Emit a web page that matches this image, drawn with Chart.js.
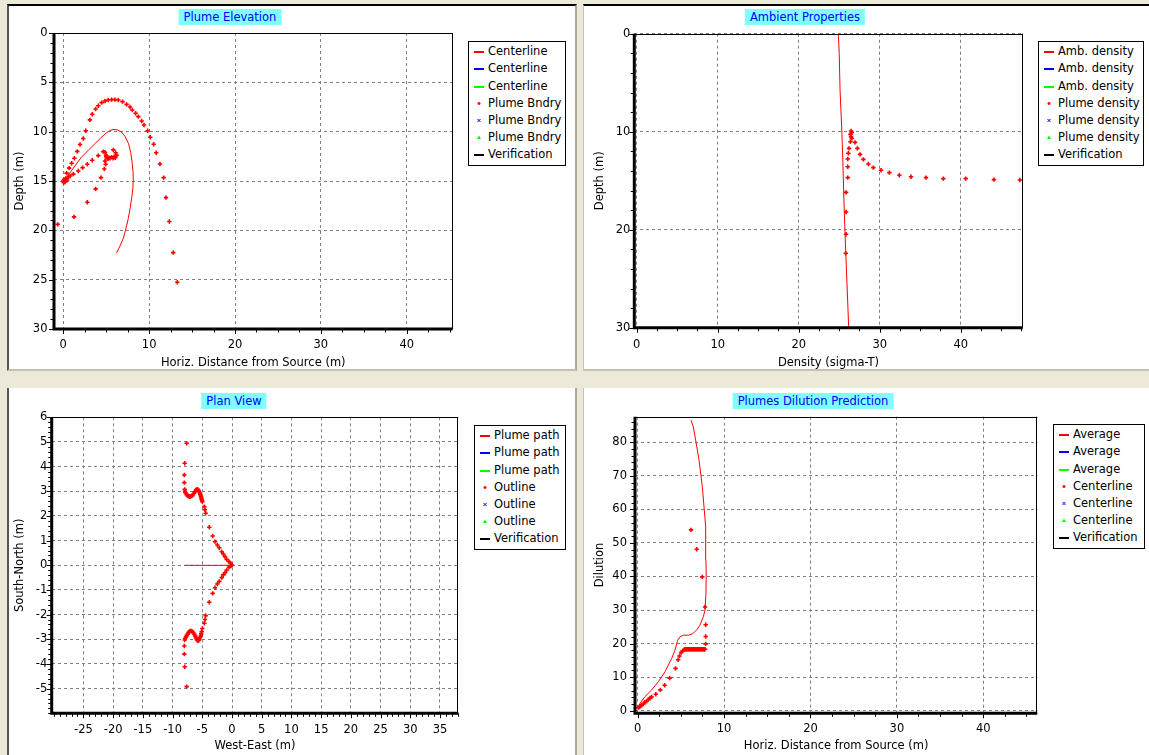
<!DOCTYPE html>
<html>
<head>
<meta charset="utf-8">
<script src="https://cdn.jsdelivr.net/npm/chart.js@4.4.1/dist/chart.umd.min.js"></script>
<style>
  html, body { margin: 0; padding: 0; }
  body { width: 1149px; height: 755px; background: #ece9d8; position: relative; overflow: hidden;
         font-family: "DejaVu Sans", sans-serif; }
  .panel { position: absolute; background: #fff; box-sizing: border-box; }
  canvas { position: absolute; }
  .ttl { position: absolute; height: 16px; line-height: 16px; padding: 0 5px; background: #80ffff; color: #0000ff;
         font-size: 11.5px; white-space: nowrap; transform: translateX(-50%); }
  .legend { position: absolute; border: 1px solid #000; background: #fff; box-sizing: border-box; font-size: 11.5px; }
  .legend .row { position: absolute; left: 0; height: 17px; line-height: 17px; white-space: nowrap; }
  .legend svg { position: absolute; left: 5px; top: 0; }
  .legend span { position: absolute; left: 19px; top: 0; color: #000; }
</style>
</head>
<body>
<div class="panel" style="left:7px;top:4px;width:570px;height:367px;border-top:2px solid #000;border-left:2px solid #555;border-right:2px solid #aca899;border-bottom:2px solid #c4c1b4;"></div>
<div class="panel" style="left:583px;top:4px;width:566px;height:367px;border-top:2px solid #000;border-left:1px solid #c4c1b4;border-bottom:2px solid #c4c1b4;"></div>
<div class="panel" style="left:7px;top:388px;width:570px;height:367px;border-left:2px solid #555;border-right:2px solid #aca899;"></div>
<div class="panel" style="left:583px;top:388px;width:566px;height:367px;border-left:1px solid #c4c1b4;"></div>

<canvas id="elevChart" width="566" height="363" style="left:9px;top:7px;"></canvas>
<canvas id="ambChart" width="561" height="363" style="left:586px;top:7px;"></canvas>
<canvas id="planChart" width="566" height="366" style="left:9px;top:389px;"></canvas>
<canvas id="dilChart" width="561" height="366" style="left:586px;top:389px;"></canvas>

<div class="ttl" style="left:230px;top:9px;">Plume Elevation</div>
<div class="ttl" style="left:805px;top:9px;">Ambient Properties</div>
<div class="ttl" style="left:234px;top:393px;">Plan View</div>
<div class="ttl" style="left:813px;top:393px;">Plumes Dilution Prediction</div>

<script>
// ---------- Plume Elevation ----------
const elevCenterX = [0.0, 0.2, 1.0, 2.1, 3.0, 3.7, 4.3, 4.9, 5.4, 5.8, 6.3, 6.8, 7.2, 7.6, 7.85, 8.0, 8.12, 8.15, 8.1, 7.97, 7.8, 7.57, 7.3, 7.0, 6.6, 6.2];
const elevCenterDepth = [15.0, 14.85, 13.9, 12.6, 11.8, 11.2, 10.7, 10.2, 9.9, 9.78, 9.82, 10.05, 10.5, 11.2, 12.1, 13.0, 14.0, 14.9, 15.8, 16.7, 17.7, 18.8, 19.8, 20.8, 21.6, 22.3];
const elevBndryX = [0.0, 0.1, 0.2, 0.3, 0.05, 0.45, 0.6,
  0.39, 0.68, 0.97, 1.29, 1.63, 1.95, 2.33, 2.62, 3.1, 3.38, 3.77, 4.08, 4.47, 4.86, 5.24, 5.63, 6.02, 6.41, 6.9, 7.38, 7.77, 8.04, 8.43, 8.74, 9.13, 9.4, 9.83, 10.13, 10.53, 10.83, 11.26, 11.69, 11.96, 12.35, 12.81, 13.28,
  0.8, 1.17, 1.75, 2.25, 2.8, 3.38, 4.08,
  4.66, 4.86, 4.97, 5.05, 5.2, 5.32, 5.45, 5.63, 5.8, 5.94, 6.05, 6.22, 6.1, 5.83, 5.0, 4.86, 4.94, 4.78,
  4.39, 3.77, 2.8, 1.25, -0.65];
const elevBndryDepth = [15.0, 14.85, 15.1, 14.75, 15.15, 14.9, 14.6,
  14.2, 13.7, 13.2, 12.7, 12.0, 11.3, 10.7, 9.9, 8.8, 8.24, 7.7, 7.37, 7.06, 6.89, 6.79, 6.75, 6.75, 6.79, 6.96, 7.23, 7.5, 7.8, 8.14, 8.48, 8.92, 9.32, 9.9, 10.57, 11.28, 12.13, 13.27, 14.66, 16.69, 19.1, 22.26, 25.26,
  14.5, 14.3, 13.98, 13.64, 13.3, 12.9, 12.43,
  12.02, 12.09, 12.36, 12.63, 12.75, 12.63, 12.7, 12.6, 12.7, 12.53, 12.65, 12.4, 12.13, 11.85, 12.5, 12.97, 13.3, 13.78,
  14.66, 15.8, 17.15, 18.64, 19.4];
const elevXTicks = [0, 10, 20, 30, 40];
const elevYTicks = [0, 5, 10, 15, 20, 25, 30];
const elevLabels = ['Centerline', 'Centerline', 'Centerline', 'Plume Bndry', 'Plume Bndry', 'Plume Bndry', 'Verification'];

// ---------- Ambient Properties ----------
const ambDensity = [24.89, 25.0, 25.1, 25.3, 25.45, 25.57, 25.72, 25.9, 26.17];
const ambDepth = [0, 2, 5.7, 9.5, 13.1, 16.8, 20.5, 24.3, 30];
const plumeDensity = [26.46, 26.54, 26.38, 26.46, 26.54, 26.38, 26.95, 26.21, 27.24, 27.57, 26.13, 27.98, 26.05, 28.6, 26.05, 29.21, 30.16, 31.19, 32.42, 33.86, 35.71, 37.85, 40.61, 44.1, 47.3, 26.05, 25.85, 25.85, 25.85, 25.8];
const plumeDensDepth = [9.93, 10.07, 10.27, 10.51, 10.68, 11.02, 11.09, 11.7, 11.7, 12.31, 12.2, 12.82, 12.79, 13.3, 13.57, 13.67, 13.94, 14.18, 14.45, 14.59, 14.69, 14.79, 14.79, 14.89, 14.93, 14.69, 16.19, 18.2, 20.47, 22.41];
const ambXTicks = [0, 10, 20, 30, 40];
const ambYTicks = [0, 10, 20, 30];
const ambLabels = ['Amb. density', 'Amb. density', 'Amb. density', 'Plume density', 'Plume density', 'Plume density', 'Verification'];

// ---------- Plan View ----------
const planPathX = [0, -8.0];
const planPathY = [0, 0];
const outlineX = [-7.63, -7.96, -8.02, -8.02, -7.96, -7.9, -7.85, -7.63, -7.5, -7.35, -7.2, -7.07, -6.9, -6.73, -6.55, -6.39, -6.25, -6.11, -6.0, -5.89, -5.78, -5.67, -5.6, -5.5, -5.4, -5.33, -5.27, -5.22, -5.16, -5.1, -5.05, -4.99, -4.66, -4.55, -4.43, -3.82, -3.25, -2.86, -2.47, -2.14, -1.73, -1.46, -1.18, -0.89, -0.5, -0.22, 0.0,
  -7.63, -7.96, -8.02, -8.02, -7.96, -7.88, -7.74, -7.6, -7.46, -7.32, -7.18, -7.04, -6.9, -6.7, -6.5, -6.33, -6.17, -6.06, -5.95, -5.84, -5.72, -5.6, -5.5, -5.38, -5.27, -5.18, -5.1, -4.99, -4.66, -4.55, -4.43, -3.82, -3.25, -2.86, -2.47, -2.14, -1.73, -1.46, -1.18, -0.89, -0.5, -0.22];
const outlineY = [4.95, 4.14, 3.66, 3.35, 3.08, 3.0, 2.94, 2.86, 2.83, 2.81, 2.79, 2.78, 2.8, 2.82, 2.87, 2.92, 2.98, 3.03, 3.06, 3.08, 3.07, 3.05, 3.02, 2.97, 2.93, 2.88, 2.83, 2.78, 2.73, 2.68, 2.63, 2.58, 2.38, 2.25, 2.11, 1.54, 1.19, 0.96, 0.82, 0.71, 0.55, 0.46, 0.35, 0.24, 0.15, 0.08, 0.01,
  -4.92, -4.11, -3.6, -3.27, -3.03, -2.97, -2.9, -2.84, -2.79, -2.73, -2.69, -2.66, -2.66, -2.68, -2.73, -2.8, -2.87, -2.94, -3.0, -3.04, -3.06, -3.04, -3.0, -2.94, -2.87, -2.78, -2.69, -2.56, -2.35, -2.2, -2.04, -1.5, -1.14, -0.91, -0.76, -0.65, -0.5, -0.39, -0.3, -0.19, -0.08, -0.03];
const planXTicks = [-25, -20, -15, -10, -5, 0, 5, 10, 15, 20, 25, 30, 35];
const planYTicks = [-5, -4, -3, -2, -1, 0, 1, 2, 3, 4, 5, 6];
const planLabels = ['Plume path', 'Plume path', 'Plume path', 'Outline', 'Outline', 'Outline', 'Verification'];

// ---------- Plumes Dilution Prediction ----------
const dilAvgX = [0.05, 0.27, 0.84, 1.62, 2.39, 3.16, 3.94, 4.32, 4.63, 4.9, 5.28, 5.86, 6.37, 6.83, 7.21, 7.6, 7.79, 7.9, 7.93, 7.9, 7.87, 7.71, 7.48, 7.1, 6.71, 6.44, 6.17];
const dilAvgY = [1.0, 2.2, 4.2, 6.2, 8.65, 11.6, 15.6, 18.1, 21.0, 22.0, 22.5, 22.5, 22.9, 24.1, 25.5, 28.0, 30.0, 35.0, 40.0, 44.9, 54.8, 59.8, 66.8, 74.7, 80.7, 84.6, 86.6];
const dilCenterX = [0.07, 0.2, 0.35, 0.46, 0.65, 0.84, 1.04, 1.23, 1.42, 1.62, 2.1, 2.62, 3.12, 3.7, 4.38, 4.68, 4.84, 5.03, 5.22, 5.4,
  5.5, 5.6, 5.7, 5.8, 5.9, 6.0, 6.1, 6.2, 6.3, 6.4, 6.5, 6.6, 6.7, 6.8, 6.9, 7.0, 7.1, 7.2, 7.3, 7.4, 7.5, 7.6, 7.7, 7.8,
  7.87, 7.87, 7.87, 7.8, 7.48, 6.83, 6.17];
const dilCenterY = [0.9, 1.1, 1.4, 1.7, 2.0, 2.5, 2.8, 3.3, 3.8, 4.1, 4.9, 6.2, 7.6, 9.7, 12.6, 15.2, 16.3, 17.3, 17.9, 18.25,
  18.3, 18.3, 18.3, 18.3, 18.3, 18.3, 18.3, 18.3, 18.3, 18.3, 18.3, 18.3, 18.3, 18.3, 18.3, 18.3, 18.3, 18.3, 18.3, 18.3, 18.3, 18.3, 18.3, 18.3,
  19.9, 22.1, 25.6, 30.9, 39.9, 48.1, 53.9];
const dilXTicks = [0, 10, 20, 30, 40];
const dilYTicks = [0, 10, 20, 30, 40, 50, 60, 70, 80];
const dilLabels = ['Average', 'Average', 'Average', 'Centerline', 'Centerline', 'Centerline', 'Verification'];

Chart.defaults.font.family = '"DejaVu Sans", sans-serif';
Chart.defaults.font.size = 11.5;
Chart.defaults.color = '#000';

const xy = (xs, ys) => xs.map((x, i) => ({ x: x, y: ys[i] }));

// the seven legend entries every panel has
function makeSets(labels, lineData, pointData) {
    return [
        { label: labels[0], data: lineData, showLine: true, borderColor: '#ff0000', borderWidth: 1, pointRadius: 0, kind: 'line' },
        { label: labels[1], data: [], showLine: true, borderColor: '#0000ff', borderWidth: 1, pointRadius: 0, kind: 'line' },
        { label: labels[2], data: [], showLine: true, borderColor: '#00ff00', borderWidth: 1, pointRadius: 0, kind: 'line' },
        { label: labels[3], data: pointData, showLine: false, pointStyle: 'cross', pointRadius: 2.2, borderWidth: 1.6, borderColor: '#ff0000', kind: 'plus' },
        { label: labels[4], data: [], showLine: false, pointStyle: 'crossRot', pointRadius: 2, borderWidth: 1, borderColor: '#0000ff', kind: 'x' },
        { label: labels[5], data: [], showLine: false, pointStyle: 'triangle', pointRadius: 2, backgroundColor: '#00ff00', borderColor: '#00ff00', kind: 'tri' },
        { label: labels[6], data: [], showLine: true, borderColor: '#000000', borderWidth: 1, pointRadius: 0, kind: 'line' }
    ];
}

// thick left/bottom axis, thin top/right, major + minor tick marks
const framePlugin = {
    id: 'frame',
    afterDatasetsDraw(chart, args, opts) {
        const { ctx, chartArea: a, scales: { x, y } } = chart;
        ctx.save();
        ctx.strokeStyle = '#000';
        ctx.lineWidth = 1;
        ctx.beginPath();
        ctx.moveTo(a.left, Math.round(a.top) + 0.5); ctx.lineTo(a.right, Math.round(a.top) + 0.5);
        ctx.moveTo(Math.round(a.right) - 0.5, a.top); ctx.lineTo(Math.round(a.right) - 0.5, a.bottom);
        const marks = (scale, step, len, horiz) => {
            const k0 = Math.ceil(scale.min / step - 1e-6), k1 = Math.floor(scale.max / step + 1e-6);
            for (let k = k0; k <= k1; k++) {
                const p = Math.round(scale.getPixelForValue(k * step)) + 0.5;
                if (horiz) { ctx.moveTo(p, a.bottom); ctx.lineTo(p, a.bottom + 1.5 + len); }
                else { ctx.moveTo(a.left - 1.5 - len, p); ctx.lineTo(a.left, p); }
            }
        };
        marks(x, opts.xMinor, 2, true);
        marks(y, opts.yMinor, 2, false);
        x.ticks.forEach(t => { const p = Math.round(x.getPixelForValue(t.value)) + 0.5; ctx.moveTo(p, a.bottom); ctx.lineTo(p, a.bottom + 5); });
        y.ticks.forEach(t => { const p = Math.round(y.getPixelForValue(t.value)) + 0.5; ctx.moveTo(a.left - 5, p); ctx.lineTo(a.left, p); });
        ctx.stroke();
        ctx.lineWidth = 3;
        ctx.beginPath();
        ctx.moveTo(a.left, a.top); ctx.lineTo(a.left, a.bottom + 1.5);
        ctx.moveTo(a.left - 1.5, a.bottom); ctx.lineTo(a.right, a.bottom);
        ctx.stroke();
        ctx.restore();
    }
};

function makeChart(id, o) {
    const canvas = document.getElementById(id);
    const cx = parseFloat(canvas.style.left), cy = parseFloat(canvas.style.top);
    const yW = o.area.L - o.yTitleX + 6.9;
    const xH = o.xTitleY + 6.9 - o.area.B;
    const pad = {
        left: o.area.L - cx - yW,
        top: o.area.T - cy,
        right: cx + canvas.width - o.area.R,
        bottom: cy + canvas.height - o.area.B - xH
    };
    const axis = (min, max, tickVals, title, tickPad, size, horiz, reverse) => ({
        type: 'linear', min: min, max: max, reverse: !!reverse,
        afterBuildTicks: s => { s.ticks = tickVals.map(v => ({ value: v })); },
        afterFit: s => {
            if (horiz) s.height = size; else s.width = size;
            s.paddingLeft = s.paddingRight = s.paddingTop = s.paddingBottom = 0;
        },
        grid: { color: '#808080', lineWidth: 1, drawTicks: false },
        border: { display: false, dash: [3, 3] },
        ticks: { color: '#000', padding: tickPad, autoSkip: false, maxRotation: 0, callback: v => String(v) },
        title: { display: true, text: title, color: '#000', padding: 0 }
    });
    const chart = new Chart(canvas, {
        type: 'scatter',
        data: { datasets: makeSets(o.labels, o.lineData, o.pointData) },
        options: {
            responsive: false, animation: false, devicePixelRatio: 1,
            layout: { padding: pad, autoPadding: false },
            plugins: { legend: { display: false }, tooltip: { enabled: false }, frame: { xMinor: o.xMinor, yMinor: o.yMinor } },
            scales: {
                x: axis(o.xMin, o.xMax, o.xTicks, o.xTitle, o.xPad, xH, true, false),
                y: axis(o.yMin, o.yMax, o.yTicks, o.yTitle, o.yPad, yW, false, o.yReverse)
            }
        },
        plugins: [framePlugin]
    });
    buildLegend(chart, o.legend);
    return chart;
}

function markerSvg(ds) {
    const c = ds.borderColor;
    let shape;
    if (ds.kind === 'line') shape = `<rect x="0" y="8" width="10" height="2" fill="${c}"/>`;
    else if (ds.kind === 'plus') shape = `<path d="M5 7V10M3.5 8.5H6.5" stroke="${c}" stroke-width="1.4"/>`;
    else if (ds.kind === 'x') shape = `<path d="M3.5 7L6.5 10M6.5 7L3.5 10" stroke="${c}" stroke-width="1"/>`;
    else shape = `<polygon points="5,6.5 7,10 3,10" fill="${c}"/>`;
    return `<svg width="12" height="17">${shape}</svg>`;
}

function buildLegend(chart, box) {
    const el = document.createElement('div');
    el.className = 'legend';
    Object.assign(el.style, { left: box.x + 'px', top: box.y + 'px', width: box.w + 'px', height: box.h + 'px' });
    chart.data.datasets.forEach((ds, i) => {
        const row = document.createElement('div');
        row.className = 'row';
        row.style.top = Math.round(1.2 + i * 17.2) + 'px';
        row.innerHTML = markerSvg(ds) + '<span>' + ds.label + '</span>';
        el.appendChild(row);
    });
    document.body.appendChild(el);
}

makeChart('elevChart', {
    labels: elevLabels, lineData: xy(elevCenterX, elevCenterDepth), pointData: xy(elevBndryX, elevBndryDepth),
    area: { L: 54, T: 33, R: 452.5, B: 329 }, yTitleX: 20, xTitleY: 363,
    xMin: -1.08, xMax: 45.33, yMin: 0, yMax: 30, yReverse: true,
    xTicks: elevXTicks, yTicks: elevYTicks, xMinor: 2.5, yMinor: 1, xPad: 9, yPad: 6.5,
    xTitle: 'Horiz. Distance from Source (m)', yTitle: 'Depth (m)',
    legend: { x: 468, y: 41, w: 98, h: 125 }
});

makeChart('ambChart', {
    labels: ambLabels, lineData: xy(ambDensity, ambDepth), pointData: xy(plumeDensity, plumeDensDepth),
    area: { L: 634.3, T: 33.7, R: 1022.7, B: 327.7 }, yTitleX: 600, xTitleY: 363,
    xMin: -0.3, xMax: 47.65, yMin: 0, yMax: 30, yReverse: true,
    xTicks: ambXTicks, yTicks: ambYTicks, xMinor: 2.5, yMinor: 2, xPad: 10, yPad: 4,
    xTitle: 'Density (sigma-T)', yTitle: 'Depth (m)',
    legend: { x: 1038, y: 41, w: 106, h: 125 }
});

makeChart('planChart', {
    labels: planLabels, lineData: xy(planPathX, planPathY), pointData: xy(outlineX, outlineY),
    area: { L: 51.7, T: 417.3, R: 458.3, B: 713.3 }, yTitleX: 20, xTitleY: 746.5,
    xMin: -30.34, xMax: 38.08, yMin: -6, yMax: 6, yReverse: false,
    xTicks: planXTicks, yTicks: planYTicks, xMinor: 1, yMinor: 0.2, xPad: 9.5, yPad: 4.5,
    xTitle: 'West-East (m)', yTitle: 'South-North (m)',
    legend: { x: 474, y: 425, w: 92, h: 125 }
});

makeChart('dilChart', {
    labels: dilLabels, lineData: xy(dilAvgX, dilAvgY), pointData: xy(dilCenterX, dilCenterY),
    area: { L: 635, T: 416.7, R: 1037.3, B: 713.3 }, yTitleX: 600, xTitleY: 746.5,
    xMin: -0.31, xMax: 46.25, yMin: -0.78, yMax: 87.63, yReverse: false,
    xTicks: dilXTicks, yTicks: dilYTicks, xMinor: 2.5, yMinor: 2, xPad: 9, yPad: 8,
    xTitle: 'Horiz. Distance from Source (m)', yTitle: 'Dilution',
    legend: { x: 1053, y: 424, w: 92, h: 125 }
});
</script>
</body>
</html>
